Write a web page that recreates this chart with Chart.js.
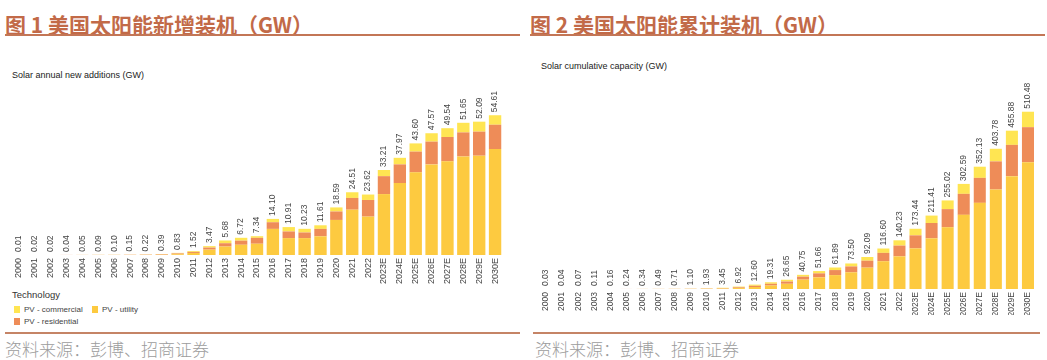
<!DOCTYPE html>
<html>
<head>
<meta charset="utf-8">
<script src="https://cdn.jsdelivr.net/npm/chart.js@4.4.0/dist/chart.umd.min.js"></script>
<style>
  body { margin: 0; background: #fff; width: 1047px; height: 360px; overflow: hidden; position: relative; font-family: 'Liberation Sans', Arial, sans-serif; }
  .title { position: absolute; top: 9px; font: bold 21px 'Noto Sans CJK SC', sans-serif; color: #c26a48; white-space: nowrap; }
  .rule { position: absolute; height: 2px; background: #c37656; }
  .rule.thin { height: 1.5px; background: #c58466; }
  .sub { position: absolute; font-size: 9px; color: #222; white-space: nowrap; }
  .src { position: absolute; top: 336px; font: 300 17px 'Noto Sans CJK SC', sans-serif; color: #9c9c9c; white-space: nowrap; }
  .legend { position: absolute; left: 12px; top: 289px; font-size: 8px; color: #444; }
  .legend .head { font-size: 9.5px; color: #333; margin-bottom: 4px; }
  .legend .item { position: absolute; white-space: nowrap; }
  .legend .sw { display: inline-block; width: 6px; height: 7px; margin-right: 4px; vertical-align: -1px; }
  canvas { position: absolute; }
</style>
</head>
<body>
<div class="title" style="left:5px">图 1 美国太阳能新增装机（GW）</div>
<div class="title" style="left:530px">图 2 美国太阳能累计装机（GW）</div>
<div class="rule" style="left:5px; width:515px; top:34px"></div>
<div class="rule" style="left:530px; width:515px; top:34px"></div>
<div class="sub" style="left:12px; top:70px">Solar annual new additions (GW)</div>
<div class="sub" style="left:541px; top:61px">Solar cumulative capacity (GW)</div>

<div class="legend">
  <div class="head">Technology</div>
  <div class="item" style="left:2px; top:16px"><span class="sw" style="background:#ffe552"></span>PV - commercial</div>
  <div class="item" style="left:80px; top:16px"><span class="sw" style="background:#fdca40"></span>PV - utility</div>
  <div class="item" style="left:2px; top:28px"><span class="sw" style="background:#ee8c58"></span>PV - residential</div>
</div>

<div class="rule thin" style="left:5px; width:515px; top:332px"></div>
<div class="rule thin" style="left:533px; width:507px; top:332px"></div>
<div class="src" style="left:5px">资料来源：彭博、招商证券</div>
<div class="src" style="left:535px">资料来源：彭博、招商证券</div>

<canvas id="newChart" style="left:0; top:40px" width="520" height="250"></canvas>
<canvas id="cumChart" style="left:520px; top:40px" width="527" height="275"></canvas>

<script>
const years = ['2000', '2001', '2002', '2003', '2004', '2005', '2006', '2007', '2008', '2009',
  '2010', '2011', '2012', '2013', '2014', '2015', '2016', '2017', '2018', '2019', '2020', '2021',
  '2022', '2023E', '2024E', '2025E', '2026E', '2027E', '2028E', '2029E', '2030E'];

// annual new additions (GW)
const newTotals = ['0.01', '0.02', '0.02', '0.04', '0.05', '0.09', '0.10', '0.15', '0.22', '0.39',
  '0.83', '1.52', '3.47', '5.68', '6.72', '7.34', '14.10', '10.91', '10.23', '11.61', '18.59',
  '24.51', '23.62', '33.21', '37.97', '43.60', '47.57', '49.54', '51.65', '52.09', '54.61'];
const newUtility = [0, 0, 0, 0, 0, 0, 0, 0.01, 0.02, 0.05, 0.3, 0.8, 2.1, 3.3, 4.0, 4.4, 10.2,
  6.6, 6.6, 7.3, 13.7, 17.7, 15.0, 23.8, 28.1, 32.3, 35.4, 36.6, 38.5, 38.8, 41.4];
const newResidential = [0.01, 0.01, 0.01, 0.03, 0.03, 0.05, 0.05, 0.08, 0.12, 0.2, 0.3, 0.4, 0.8,
  1.3, 1.6, 2.3, 2.6, 2.6, 2.2, 2.9, 3.3, 4.6, 6.5, 7.0, 7.3, 8.1, 8.9, 9.5, 9.4, 9.4, 9.5];
const newCommercial = [0, 0.01, 0.01, 0.01, 0.02, 0.04, 0.05, 0.06, 0.08, 0.14, 0.23, 0.32, 0.57,
  1.08, 1.12, 0.64, 1.3, 1.71, 1.43, 1.41, 1.59, 2.21, 2.12, 2.41, 2.57, 3.2, 3.27, 3.44, 3.75,
  3.89, 3.71];

// cumulative capacity (GW)
const cumTotals = ['0.03', '0.04', '0.07', '0.11', '0.16', '0.24', '0.34', '0.49', '0.71', '1.10',
  '1.93', '3.45', '6.92', '12.60', '19.31', '26.65', '40.75', '51.66', '61.89', '73.50', '92.09',
  '116.60', '140.23', '173.44', '211.41', '255.02', '302.59', '352.13', '403.78', '455.88', '510.48'];
const cumUtility = [0, 0, 0, 0.01, 0.01, 0.02, 0.03, 0.05, 0.1, 0.2, 0.5, 1.2, 2.7, 5.7, 10, 15,
  27, 33.5, 40, 48, 61.5, 80, 94, 117, 146, 178, 213.5, 248, 286.5, 325, 365];
const cumResidential = [0.02, 0.02, 0.04, 0.06, 0.09, 0.13, 0.18, 0.25, 0.35, 0.5, 0.8, 1.2, 2.1,
  3.5, 5, 6.5, 8.5, 11.5, 14.5, 17, 20, 24, 31, 37.5, 44, 52, 60.5, 72, 81, 90, 101];
const cumCommercial = [0.01, 0.02, 0.03, 0.04, 0.06, 0.09, 0.13, 0.19, 0.26, 0.4, 0.63, 1.05, 2.12,
  3.4, 4.31, 5.15, 5.25, 6.66, 7.39, 8.5, 10.59, 12.6, 15.23, 18.94, 21.41, 25.02, 28.59, 32.13,
  36.28, 40.88, 44.48];

const COLORS = { utility: '#fdca40', residential: '#ee8c58', commercial: '#ffe552' };

// rotated total above each stack
const totalLabels = {
  id: 'totalLabels',
  afterDatasetsDraw(chart, args, opts) {
    const { ctx } = chart;
    const top = chart.getDatasetMeta(chart.data.datasets.length - 1);
    ctx.save();
    ctx.font = `${opts.size}px 'Liberation Sans', Arial, sans-serif`;
    ctx.fillStyle = '#444';
    ctx.textAlign = 'left';
    ctx.textBaseline = 'middle';
    top.data.forEach((bar, i) => {
      ctx.save();
      ctx.translate(bar.x, bar.y - 3);
      ctx.rotate(-Math.PI / 2);
      ctx.fillText(opts.labels[i], 0, 0);
      ctx.restore();
    });
    ctx.restore();
  },
};

function buildChart(el, { utility, residential, commercial, totals, yMax, padding, axisHeight, tickSize, barPct }) {
  return new Chart(el, {
    type: 'bar',
    data: {
      labels: years,
      datasets: [
        { label: 'PV - utility', data: utility, backgroundColor: COLORS.utility },
        { label: 'PV - residential', data: residential, backgroundColor: COLORS.residential },
        { label: 'PV - commercial', data: commercial, backgroundColor: COLORS.commercial },
      ],
    },
    options: {
      responsive: false,
      animation: false,
      layout: { padding },
      datasets: { bar: { barPercentage: barPct, categoryPercentage: 1 } },
      plugins: {
        legend: { display: false },
        tooltip: { enabled: false },
        totalLabels: { labels: totals, size: 8.5 },
      },
      scales: {
        x: {
          stacked: true,
          grid: { display: false, drawTicks: false },
          border: { display: false },
          afterFit: (scale) => { scale.height = axisHeight; },
          ticks: {
            minRotation: 90,
            maxRotation: 90,
            padding: 3,
            autoSkip: false,
            color: '#444',
            font: { family: "'Liberation Sans', Arial, sans-serif", size: tickSize },
          },
        },
        y: { stacked: true, display: false, min: 0, max: yMax },
      },
    },
    plugins: [totalLabels],
  });
}

buildChart(document.getElementById('newChart'), {
  utility: newUtility, residential: newResidential, commercial: newCommercial, totals: newTotals,
  yMax: 84, padding: { left: 11, right: 17, top: 0, bottom: 0 }, axisHeight: 35, tickSize: 9, barPct: 0.78,
});

buildChart(document.getElementById('cumChart'), {
  utility: cumUtility, residential: cumResidential, commercial: cumCommercial, totals: cumTotals,
  yMax: 717, padding: { left: 18, right: 11, top: 0, bottom: 0 }, axisHeight: 26, tickSize: 8.5, barPct: 0.75,
});
</script>
</body>
</html>
